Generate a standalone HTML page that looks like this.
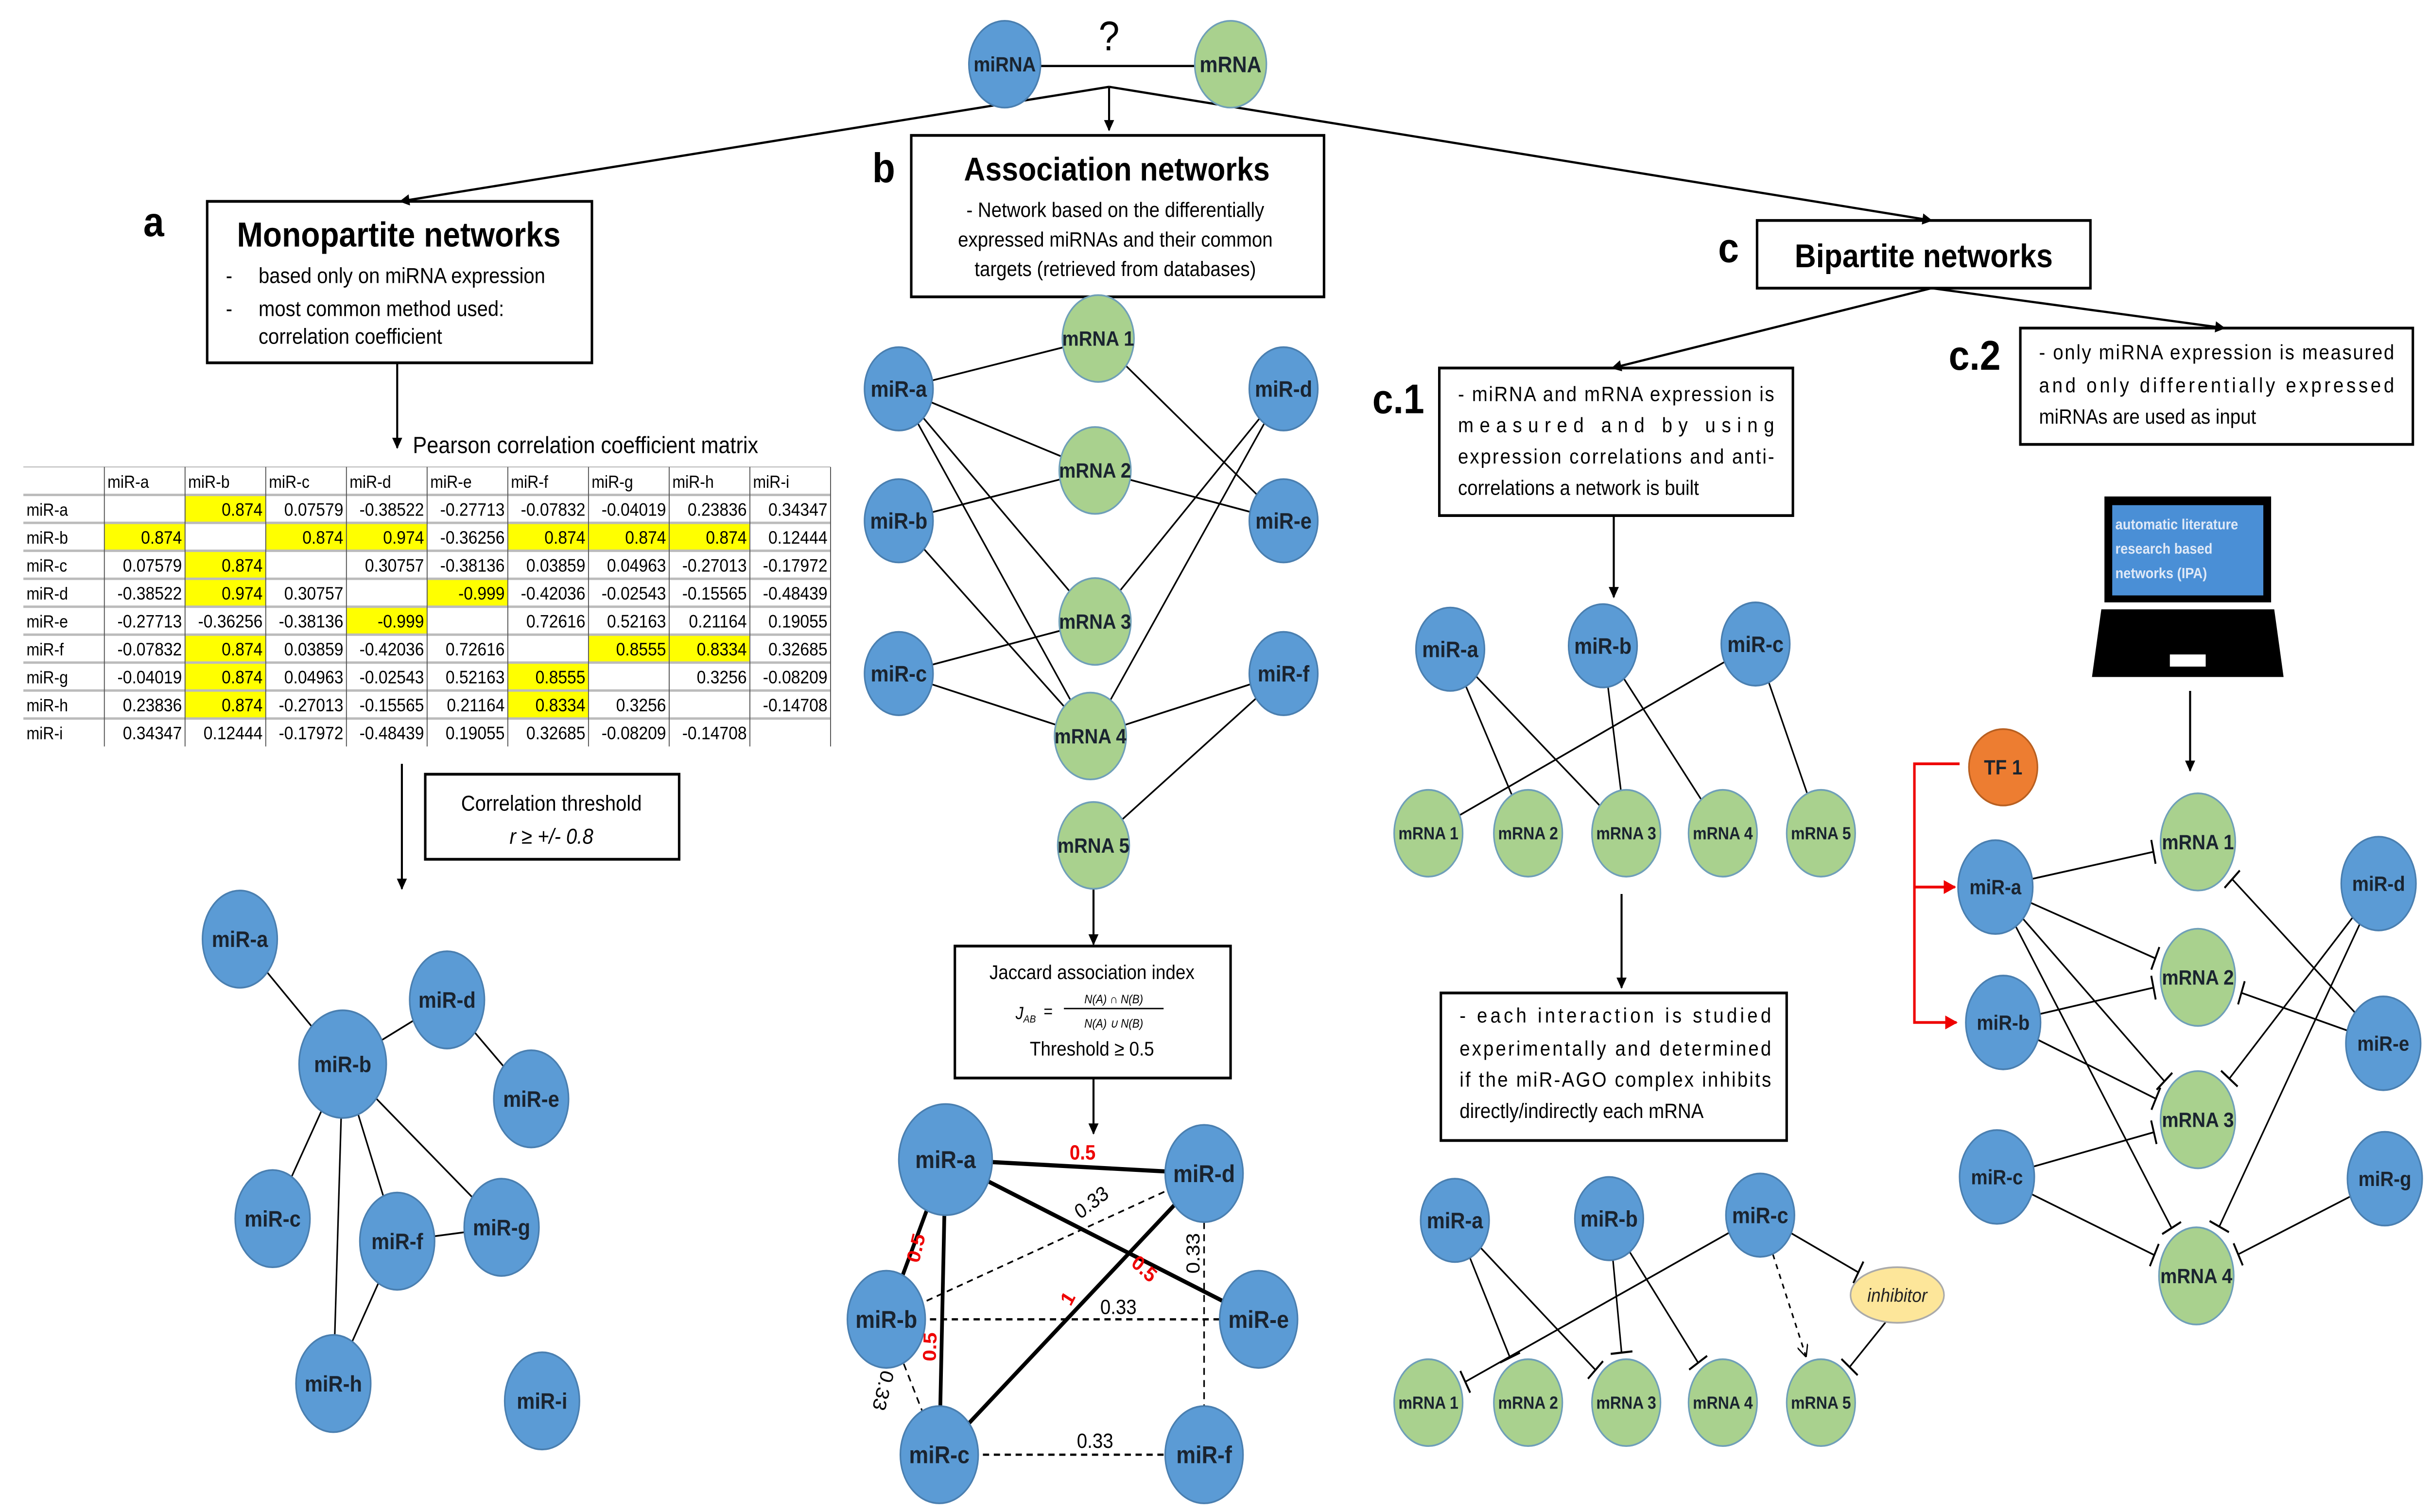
<!DOCTYPE html>
<html><head><meta charset="utf-8"><style>
html,body{margin:0;padding:0;background:#fff;width:100%;height:100%;overflow:hidden;}
svg{display:block;width:100vw;height:100vh;}
text{font-family:"Liberation Sans",sans-serif;}
</style></head><body>
<svg id="s" xmlns="http://www.w3.org/2000/svg" viewBox="0 0 1560 871" preserveAspectRatio="none">
<defs>
<marker id="ar" viewBox="0 0 10 10" refX="9" refY="5" markerWidth="5" markerHeight="5" orient="auto"><path d="M0,0L10,5L0,10z" fill="#000"/></marker>
<marker id="ra" viewBox="0 0 10 10" refX="9" refY="5" markerWidth="5" markerHeight="5" orient="auto"><path d="M0,0L10,5L0,10z" fill="#e00"/></marker>
<marker id="oa" viewBox="0 0 10 10" refX="9" refY="5" markerWidth="7" markerHeight="7" orient="auto"><path d="M0,0L10,5L0,10" fill="none" stroke="#000" stroke-width="1.2"/></marker>
</defs>
<g id="g1" stroke="#000" fill="none" stroke-width="1.3">
<line x1="668" y1="38" x2="767" y2="38"/>
<line x1="712" y1="50" x2="257" y2="116" marker-end="url(#ar)"/>
<line x1="712" y1="50" x2="712" y2="75" marker-end="url(#ar)"/>
<line x1="712" y1="50" x2="1240" y2="127" marker-end="url(#ar)"/>
<rect x="133" y="116" width="247" height="93" stroke-width="1.6"/>
<rect x="585" y="78" width="265" height="93" stroke-width="1.6"/>
<rect x="1128" y="127" width="214" height="39" stroke-width="1.6"/>
<rect x="924" y="212" width="227" height="85" stroke-width="1.6"/>
<rect x="1297" y="189" width="252" height="67" stroke-width="1.6"/>
<rect x="273" y="446" width="163" height="49" stroke-width="1.6"/>
<rect x="613" y="545" width="177" height="76" stroke-width="1.6"/>
<rect x="925" y="572" width="222" height="85" stroke-width="1.6"/>
<line x1="255" y1="209" x2="255" y2="258" marker-end="url(#ar)"/>
<line x1="258" y1="440" x2="258" y2="512" marker-end="url(#ar)"/>
<line x1="702" y1="511" x2="702" y2="544" marker-end="url(#ar)"/>
<line x1="702" y1="621" x2="702" y2="653" marker-end="url(#ar)"/>
<line x1="1240" y1="166" x2="1035" y2="212" marker-end="url(#ar)"/>
<line x1="1240" y1="166" x2="1428" y2="189" marker-end="url(#ar)"/>
<line x1="1036" y1="297" x2="1036" y2="344" marker-end="url(#ar)"/>
<line x1="1041" y1="515" x2="1041" y2="569" marker-end="url(#ar)"/>
<line x1="1406" y1="398" x2="1406" y2="444" marker-end="url(#ar)"/>
<polyline points="1258,440 1229,440 1229,589 1256,589" stroke="#e00" stroke-width="1.6" marker-end="url(#ra)"/>
<polyline points="1229,511 1255,511" stroke="#e00" stroke-width="1.6" marker-end="url(#ra)"/>
</g>
<g id="edges" stroke="#000" fill="none" stroke-width="1"></g>
<g id="nodes"></g>
<g id="tbl"></g>
<rect x="1351" y="286" width="107" height="61" fill="#000"/>
<rect x="1356" y="291" width="97" height="52" fill="#4a8fd6"/>
<polygon points="1349,351 1460,351 1466,390 1343,390" fill="#000"/>
<rect x="1393" y="377" width="23" height="7" fill="#fff"/>
<g font-size="8.5" font-weight="bold" fill="#dfe9f7">
<text x="1358" y="305">automatic literature</text>
<text x="1358" y="319">research based</text>
<text x="1358" y="333">networks (IPA)</text>
</g>
<g fill="#000">
<text x="712" y="29" font-size="24" text-anchor="middle">?</text>
<text x="92" y="136" font-size="24" font-weight="bold">a</text>
<text x="256" y="142" font-size="20" font-weight="bold" text-anchor="middle">Monopartite networks</text>
<g font-size="12.5"><text x="145" y="163">-</text><text x="166" y="163">based only on miRNA expression</text>
<text x="145" y="182">-</text><text x="166" y="182">most common method used:</text>
<text x="166" y="198">correlation coefficient</text></g>
<text x="265" y="261" font-size="13.5">Pearson correlation coefficient matrix</text>
<text x="354" y="467" font-size="12.5" text-anchor="middle">Correlation threshold</text>
<text x="354" y="486" font-size="12.5" font-style="italic" text-anchor="middle">r ≥ +/- 0.8</text>
<text x="560" y="105" font-size="24" font-weight="bold">b</text>
<text x="717" y="104" font-size="19" font-weight="bold" text-anchor="middle">Association networks</text>
<g font-size="12" text-anchor="middle"><text x="716" y="125">- Network based on the differentially</text>
<text x="716" y="142">expressed miRNAs and their common</text>
<text x="716" y="159">targets (retrieved from databases)</text></g>
<text x="701" y="564" font-size="11.5" text-anchor="middle">Jaccard association index</text>
<text x="652" y="587" font-size="10" font-style="italic">J</text><text x="657" y="589" font-size="6" font-style="italic">AB</text><text x="670" y="586" font-size="10">=</text>
<line x1="683" y1="581" x2="747" y2="581" stroke="#000" stroke-width="0.8"/>
<text x="715" y="578" font-size="7" font-style="italic" text-anchor="middle">N(A) ∩ N(B)</text>
<text x="715" y="592" font-size="7" font-style="italic" text-anchor="middle">N(A) ∪ N(B)</text>
<text x="701" y="608" font-size="11.5" text-anchor="middle">Threshold ≥ 0.5</text>
<text x="1103" y="151" font-size="24" font-weight="bold">c</text>
<text x="1235" y="154" font-size="19" font-weight="bold" text-anchor="middle">Bipartite networks</text>
<text x="881" y="238" font-size="24" font-weight="bold">c.1</text>
<g font-size="12"><text x="936" y="231" textLength="203" lengthAdjust="spacing">- miRNA and mRNA expression is</text>
<text x="936" y="249" textLength="203" lengthAdjust="spacing">measured and by using</text>
<text x="936" y="267" textLength="203" lengthAdjust="spacing">expression correlations and anti-</text>
<text x="936" y="285">correlations a network is built</text></g>
<text x="1251" y="213" font-size="24" font-weight="bold">c.2</text>
<g font-size="12"><text x="1309" y="207" textLength="228" lengthAdjust="spacing">- only miRNA expression is measured</text>
<text x="1309" y="226" textLength="228" lengthAdjust="spacing">and only differentially expressed</text>
<text x="1309" y="244">miRNAs are used as input</text></g>
<g font-size="12"><text x="937" y="589" textLength="200" lengthAdjust="spacing">- each interaction is studied</text>
<text x="937" y="608" textLength="200" lengthAdjust="spacing">experimentally and determined</text>
<text x="937" y="626" textLength="200" lengthAdjust="spacing">if the miR-AGO complex inhibits</text>
<text x="937" y="644">directly/indirectly each mRNA</text></g>
</g>
<script>
var NS="http://www.w3.org/2000/svg";
function el(p,t,a,txt){var e=document.createElementNS(NS,t);for(var k in a)e.setAttribute(k,a[k]);if(txt!==undefined)e.textContent=txt;p.appendChild(e);return e;}
var E=document.getElementById('edges'),N=document.getElementById('nodes'),T=document.getElementById('tbl');
var B="#5b9bd5",G="#a9d18e";
function node(x,y,rx,ry,f,l,fs,st){el(N,'ellipse',{cx:x,cy:y,rx:rx,ry:ry,fill:f,stroke:st||(f==G?"#6f9fb8":"#4a7fb0"),'stroke-width':1});
el(N,'text',{x:x,y:y+fs*0.35,'font-size':fs,'font-weight':'bold','text-anchor':'middle',fill:'#1a2430'},l);}
function line(a,b,w,dash){var o={x1:a[0],y1:a[1],x2:b[0],y2:b[1],'stroke-width':w||1};if(dash)o['stroke-dasharray']=dash;return el(E,'line',o);}
function tb(a,b,rx,ry,dash,arrow){var dx=b[0]-a[0],dy=b[1]-a[1],L=Math.hypot(dx,dy),ux=dx/L,uy=dy/L;
var r=1/Math.sqrt((ux/rx)*(ux/rx)+(uy/ry)*(uy/ry))+4;var px=b[0]-ux*r,py=b[1]-uy*r;
var o={x1:a[0],y1:a[1],x2:px,y2:py,'stroke-width':1};if(dash)o['stroke-dasharray']=dash;if(arrow)o['marker-end']='url(#oa)';el(E,'line',o);
if(!arrow)el(E,'line',{x1:px-uy*7,y1:py+ux*7,x2:px+uy*7,y2:py-ux*7,'stroke-width':1.2});}
node(645,37,23,25,B,'miRNA',12);node(790,37,23,25,G,'mRNA',13);
var A={a:[154,541],b:[220,613],d:[287,576],e:[341,633],c:[175,702],f:[255,715],g:[322,707],h:[214,797],i:[348,807]};
[['a','b'],['b','d'],['d','e'],['b','c'],['b','h'],['b','f'],['b','g'],['f','g'],['f','h']].forEach(function(p){line(A[p[0]],A[p[1]]);});
for(var k in A)node(A[k][0],A[k][1],k=='b'?28:24,k=='b'?31:28,B,'miR-'+k,13);
var Bn={a:[577,224],b:[577,300],c:[577,388],m1:[705,195],m2:[703,271],m3:[703,358],m4:[700,424],m5:[702,487],d:[824,224],e:[824,300],f:[824,388]};
[['a','m1'],['a','m2'],['a','m3'],['a','m4'],['b','m2'],['b','m4'],['c','m3'],['c','m4'],['m1','e'],['m2','e'],['d','m3'],['d','m4'],['f','m4'],['f','m5']].forEach(function(p){line(Bn[p[0]],Bn[p[1]]);});
for(var k in Bn){if(k[0]=='m')node(Bn[k][0],Bn[k][1],23,25,G,'mRNA '+k[1],12);else node(Bn[k][0],Bn[k][1],22,24,B,'miR-'+k,13);}
var W={a:[607,668],d:[773,676],b:[569,760],e:[808,760],c:[603,838],f:[773,838]};
line(W.a,W.d,2.4);line(W.a,W.e,2.4);line(W.a,W.b,2.4);line(W.a,W.c,2.4);line(W.c,W.d,2.4);
line(W.b,W.d,1,'4,3');line(W.b,W.e,1.3,'4,3');line(W.d,W.f,1,'4,3');line(W.b,W.c,1,'4,3');line(W.c,W.f,1.3,'4,3');
for(var k in W){var big=k=='a';node(W[k][0],W[k][1],big?30:25,big?32:28,B,'miR-'+k,14);}
function lab(x,y,t,c,rot,fs){var a={x:x,y:y,'font-size':fs||12,fill:c,'text-anchor':'middle','font-weight':c=='#e00'?'bold':'normal'};if(rot)a.transform='rotate('+rot+' '+x+' '+y+')';el(N,'text',a,t);}
lab(695,668,'0.5','#e00');lab(732,734,'0.5','#e00',40);lab(592,720,'0.5','#e00',-75);lab(601,776,'0.5','#e00',-88);lab(689,750,'1','#e00',-60);
lab(703,696,'0.33','#000',-35);lab(718,757,'0.33','#000');lab(770,722,'0.33','#000',-90);lab(563,800,'0.33','#000',105);lab(703,834,'0.33','#000');
var mx=[917,981,1044,1106,1169];
var C={a:[931,374],b:[1029,372],c:[1127,371]};
[['a',1],['a',2],['b',2],['b',3],['c',0],['c',4]].forEach(function(p){line(C[p[0]],[mx[p[1]],480]);});
for(var k in C)node(C[k][0],C[k][1],22,24,B,'miR-'+k,13);
mx.forEach(function(x,i){node(x,480,22,25,G,'mRNA '+(i+1),10);});
var D={a:[934,703],b:[1033,702],c:[1130,700]};
[['a',1],['a',2],['b',2],['b',3],['c',0]].forEach(function(p){tb(D[p[0]],[mx[p[1]],808],22,25);});
tb(D.c,[1218,746],30,16);tb([1212,760],[1169,808],22,25);tb(D.c,[1169,808],22,25,'3,3',true);
for(var k in D)node(D[k][0],D[k][1],22,24,B,'miR-'+k,13);
mx.forEach(function(x,i){node(x,808,22,25,G,'mRNA '+(i+1),10);});
el(N,'ellipse',{cx:1218,cy:746,rx:30,ry:16,fill:'#fde69a',stroke:'#aaa','stroke-width':1});
el(N,'text',{x:1218,y:750,'font-size':11,'font-style':'italic','text-anchor':'middle',fill:'#222'},'inhibitor');
var M={1:[1411,485],2:[1411,563],3:[1411,645],4:[1410,735]};
var R={a:[1281,511],b:[1286,589],c:[1282,678],d:[1527,509],e:[1530,601],g:[1531,679]};
[['a',1],['a',2],['a',3],['a',4],['b',2],['b',3],['c',3],['c',4],['d',3],['d',4],['e',1],['e',2],['g',4]].forEach(function(p){tb(R[p[0]],M[p[1]],25,29);});
for(var k in R)node(R[k][0],R[k][1],24,27,B,'miR-'+k,12);
for(var k in M)node(M[k][0],M[k][1],24,28,G,'mRNA '+k,12);
node(1286,442,22,22,'#ed7d31','TF 1',12,'#b85f20');
var rows=[['','0.874','0.07579','-0.38522','-0.27713','-0.07832','-0.04019','0.23836','0.34347'],
['0.874','','0.874','0.974','-0.36256','0.874','0.874','0.874','0.12444'],
['0.07579','0.874','','0.30757','-0.38136','0.03859','0.04963','-0.27013','-0.17972'],
['-0.38522','0.974','0.30757','','-0.999','-0.42036','-0.02543','-0.15565','-0.48439'],
['-0.27713','-0.36256','-0.38136','-0.999','','0.72616','0.52163','0.21164','0.19055'],
['-0.07832','0.874','0.03859','-0.42036','0.72616','','0.8555','0.8334','0.32685'],
['-0.04019','0.874','0.04963','-0.02543','0.52163','0.8555','','0.3256','-0.08209'],
['0.23836','0.874','-0.27013','-0.15565','0.21164','0.8334','0.3256','','-0.14708'],
['0.34347','0.12444','-0.17972','-0.48439','0.19055','0.32685','-0.08209','-0.14708','']];
var hl={0:[1],1:[0,2,3,5,6,7],2:[1],3:[1,4],4:[3],5:[1,6,7],6:[1,5],7:[1,5]};
var L='abcdefghi',x0=15,c0=67,cw=51.8,y0=269,rh=16.1;
for(var r=0;r<10;r++){var y=y0+r*rh;
 if(r>0){(hl[r-1]||[]).forEach(function(c){el(T,'rect',{x:c0+c*cw,y:y,width:cw,height:rh,fill:'#ffff00'});});}
 el(T,'line',{x1:x0,y1:y,x2:533,y2:y,stroke:'#bbb','stroke-width':r==0?0.6:1.4});
 if(r==0){for(var c=0;c<9;c++)el(T,'text',{x:c0+c*cw+2,y:y+12,'font-size':10},'miR-'+L[c]);}
 else{el(T,'text',{x:x0+2,y:y+12,'font-size':10},'miR-'+L[r-1]);
  for(var c=0;c<9;c++){var v=rows[r-1][c];if(v)el(T,'text',{x:c0+(c+1)*cw-2,y:y+12,'font-size':10.5,'text-anchor':'end'},v);}}
}
for(var c=0;c<=9;c++){var x=c==0?c0:c0+c*cw;el(T,'line',{x1:x,y1:y0,x2:x,y2:y0+10*rh,stroke:'#555','stroke-width':0.6});}
</script>
</svg>
</body></html>
